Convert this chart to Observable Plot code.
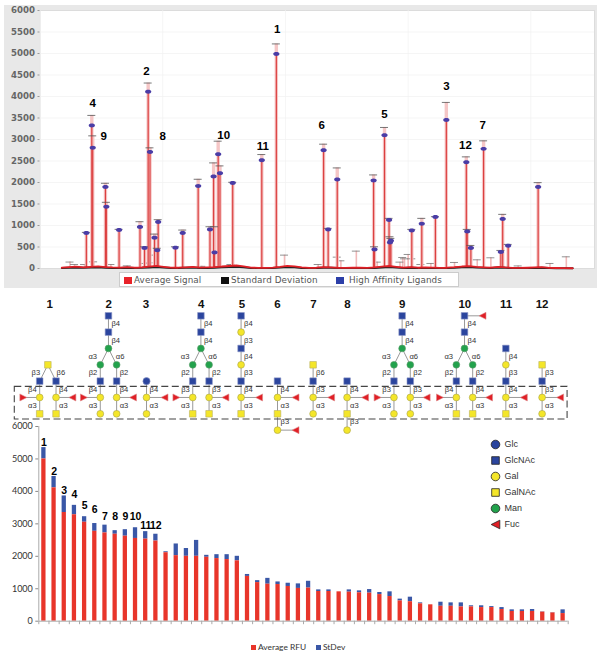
<!DOCTYPE html>
<html><head><meta charset="utf-8">
<script src="https://cdn.jsdelivr.net/npm/d3@7"></script>
<script src="https://cdn.jsdelivr.net/npm/@observablehq/plot@0.6"></script>
<style>
html,body{margin:0;padding:0;background:#fff}
#page{position:relative;width:602px;height:655px;overflow:hidden;background:#fff}
#page>div{position:absolute}
svg{display:block;overflow:visible}
.tl{position:absolute;top:2px;font:8.8px "DejaVu Sans",sans-serif;letter-spacing:.1px;color:#555;white-space:nowrap}
.ts{position:absolute;top:4px;width:8px;height:7px}
.bl{position:absolute;font:8.4px Lato,sans-serif;color:#333;white-space:nowrap}
.bs{position:absolute;width:5px;height:5px;top:3px}
</style></head><body><div id="page">
<div id="top" style="left:4px;top:5px"></div>
<div id="topLegend" style="left:119px;top:272px;width:340px;height:15px;background:#fff;border:1px solid #ccc;box-sizing:border-box">
  <span class="ts" style="left:4px;background:#e8232a"></span><span class="tl" style="left:14px">Average Signal</span>
  <span class="ts" style="left:101px;background:#111"></span><span class="tl" style="left:111px">Standard Deviation</span>
  <span class="ts" style="left:216px;background:#2c3fa8"></span><span class="tl" style="left:229px">High Affinity Ligands</span>
</div>
<div id="mid" style="left:0;top:290px"></div>
<div id="bottom" style="left:0;top:420px"></div>
<div id="key" style="left:480px;top:435px"></div>
<div style="left:250px;top:642px;width:110px;height:12px">
  <span class="bs" style="left:1px;background:#e8352a"></span><span class="bl" style="left:8px">Average RFU</span>
  <span class="bs" style="left:66px;background:#3a57a6"></span><span class="bl" style="left:73px">StDev</span>
</div>
</div>
<script>
/* ---------- top chart: high affinity ligands across the array ---------- */
const ligandNumber = [51,57,58,72,73,87,110,115,119,121,126,129,130,149,157,174,187,191,192,196,198,212,244,260,312,317,327,367,368,379,384,385,386,409,420,435,447,469,470,474,488,507,509,515,548];
const ligandSignal = [824,3327,2806,1896,1438,894,964,474,4111,2712,715,427,1080,482,824,1920,909,2137,373,2658,2215,1990,2518,4990,2751,909,2067,2044,443,3101,1127,606,645,886,1041,1197,3451,2471,863,474,2782,381,1150,528,1896];
const ligandTop    = [840,3560,3085,1982,1539,910,1088,505,4313,2806,800,470,1135,505,894,2075,971,2456,971,2961,2386,2005,2650,5223,2891,933,2339,2176,505,3280,1166,738,700,909,1166,1205,3862,2596,909,536,2969,420,1259,560,1997];
const minorNumber = [33,38,49,59,78,96,115,120,126,178,210,269,306,327,331,348,371,396,399,401,405,409,419,430,456,481,496,526,561,579];
const minorTop    = [150,93,93,155,93,62,117,132,311,50,93,311,93,264,179,404,148,148,256,225,326,225,93,117,140,202,249,60,117,272];
const noiseNumber = [24,32,40,48,56,64,72,80,88,96,104,112,120,128,136,144,152,160,168,176,184,192,200,208,216,224,232,240,248,256,264,272,280,288,296,304,312,320,328,336,344,352,360,368,376,384,392,400,408,416,424,432,440,448,456,464,472,480,488,496,504,512,520,528,536,544,552,560,568,576,586];
const noiseSignal = [18,30,42,26,38,50,34,24,20,30,18,26,44,60,40,22,18,28,36,20,24,30,46,58,70,48,22,16,14,20,38,62,48,24,14,18,30,26,16,14,18,22,14,24,44,58,40,22,30,18,24,20,14,18,30,46,54,36,28,22,40,26,16,14,18,24,30,16,12,10,6];
const noiseStDev  = [10,18,24,16,22,28,20,14,12,18,12,16,26,34,24,14,12,16,22,12,14,18,28,34,40,28,14,10,10,12,22,36,28,14,10,12,18,16,10,10,12,14,10,14,26,34,24,14,18,12,14,12,10,12,18,28,32,22,16,14,24,16,10,10,12,14,18,10,8,6,4];
const topRank  = ["1","2","3","4","5","6","7","8","9","10","11","12"];
const topRankN = [261,117,447,58,379,310,487,135,70,202,245,468];
const topRankV = [5557,4578,4243,3831,3575,3326,3326,3070,3070,3093,2837,2860];

const ligands = ligandNumber.map((n,i)=>({n,v:ligandSignal[i],t:ligandTop[i]}));
const minors  = minorNumber.map((n,i)=>({n,t:minorTop[i]}));
const noise   = noiseNumber.map((n,i)=>({n,s:noiseSignal[i],d:noiseStDev[i]}));
const topLabels = topRank.map((r,i)=>({r,n:topRankN[i],v:topRankV[i]}));
const ellipse = {draw(c,size){const r=Math.sqrt(size/Math.PI),a=r*1.25,b=r*.8;
  c.moveTo(a,0);c.bezierCurveTo(a,b*1.33,-a,b*1.33,-a,0);c.bezierCurveTo(-a,-b*1.33,a,-b*1.33,a,0);c.closePath();}};
const tickHalf = 4.4;

document.getElementById("top").append(Plot.plot({
  width:593,height:283,marginLeft:35.5,marginRight:3,marginTop:5,marginBottom:20,
  style:{background:"#e8e8e8",overflow:"visible"},
  x:{domain:[0,610],axis:null},
  y:{domain:[0,6000]},
  marks:[
    Plot.frame({fill:"#fff",stroke:"#dcdcdc"}),
    Plot.gridY(d3.range(500,6000,500),{stroke:"#f1f1f1",strokeOpacity:1,strokeWidth:.7}),
    Plot.gridX(d3.range(0,611,135),{stroke:"#f1f1f1",strokeOpacity:1,strokeWidth:.7}),
    Plot.axisY(d3.range(0,6001,500),{tickFormat:d=>String(d),fontSize:8.6,fontWeight:"bold",fontFamily:"DejaVu Sans",fill:"#666",stroke:"#999",tickSize:2,tickPadding:3,label:null,textStroke:"none"}),
    Plot.ruleX(minors,{x:"n",y1:0,y2:"t",stroke:"#f1b9b9",strokeWidth:1.6}),
    Plot.ruleY(minors,{y:"t",x1:d=>d.n-tickHalf,x2:d=>d.n+tickHalf,stroke:"#777",strokeWidth:.8}),
    Plot.ruleX(ligands,{x:"n",y1:0,y2:"t",stroke:"#f5c6c6",strokeWidth:3.4}),
    Plot.ruleX(ligands,{x:"n",y1:0,y2:"v",stroke:"#dc4040",strokeWidth:1.2}),
    Plot.ruleY(ligands,{y:"t",x1:d=>d.n-tickHalf,x2:d=>d.n+tickHalf,stroke:"#555",strokeWidth:.8}),
    Plot.lineY(noise,{x:"n",y:"d",stroke:"#222",strokeWidth:2}),
    Plot.lineY(noise,{x:"n",y:"s",stroke:"#e01f26",strokeWidth:1.8}),
    Plot.dot(ligands,{x:"n",y:"v",r:2.5,symbol:ellipse,fill:"#4a3da6",stroke:"none"}),
    Plot.text(topLabels,{x:"n",y:"v",text:"r",fontSize:11.5,fontWeight:"bold",fontFamily:"Liberation Sans",fill:"#000"})
  ]
}));

/* ---------- middle: glycan structures ---------- */
const glycanNo = [1,2,3,4,5,6,7,8,9,10,11,12];
const glycanCenter = [2.9,6.61,8.94,12.27,14.73,16.96,19.14,21.22,24.59,28.41,30.94,33.16];
const glycanLabelAt = [3.02,6.63,8.9,12.29,14.78,16.96,19.16,21.24,24.59,28.43,30.96,33.16];
const glycanTopLevel = [3,6,2,6,6,2,3,2,6,6,4,3];
const glycanTrunk = [
  ["GalNAc"],
  ["GlcNAc","β4","GlcNAc","β4","Man"],
  ["Glc","β4","Gal","α3","Gal"],
  ["GlcNAc","β4","GlcNAc","β4","Man"],
  ["GlcNAc","β4","Gal","β3","GlcNAc","β4","Gal","β3","GlcNAc","β4","Gal","α3","GalNAc"],
  ["GlcNAc","β4","Gal","α3","GalNAc","β3","Gal"],
  ["GalNAc","β6","GlcNAc","β3","Gal","α3","Gal"],
  ["GlcNAc","β4","Gal","α3","GalNAc","β3","Gal"],
  ["GlcNAc","β4","GlcNAc","β4","Man"],
  ["GlcNAc","β4","GlcNAc","β4","Man"],
  ["GlcNAc","β4","Gal","β3","GlcNAc","β4","Gal","α3","GalNAc"],
  ["GalNAc","β3","GlcNAc","β3","Gal","α3","Gal"]
];
const glycanArms = [
  ["GlcNAc","β4","Gal","α3","GalNAc"],
  ["Man","β2","GlcNAc","β4","Gal","α3","Gal"],
  null,
  ["Man","β2","GlcNAc","β3","Gal","α3","GalNAc"],
  null,null,null,null,
  ["Man","β2","GlcNAc","β3","Gal","α3","Gal"],
  ["Man","β2","GlcNAc","β4","Gal","α3","GalNAc"],
  null,null
];
const glycanForks = [["β3","β6"],["α3","α6"],null,["α3","α6"],null,null,null,null,["α3","α6"],["α3","α6"],null,null];
const glycanExtraFuc = [[],[],[],[],[],[-1],[],[],[],[6],[],[]];
const armSpread = .5, armFuc = 1;

const nodes=[],links=[],linkText=[];
function chain(g,x,top,seq,side){
  for(let i=0;i<seq.length;i+=2){
    const level=top-i/2;
    nodes.push({g,x,level,type:seq[i]});
    if(i+2<seq.length){
      links.push({x1:x,x2:x,y1:level,y2:level-1});
      linkText.push({x,y:level-.5,t:seq[i+1],side});
    }
  }
}
function fuc(g,x,level,dir,reach){
  const fx=x+dir*reach;
  nodes.push({g,x:fx,level,type:dir>0?"FucL":"FucR"});
  links.push({x1:x,x2:fx,y1:level,y2:level});
}
glycanNo.forEach((no,k)=>{
  const c=glycanCenter[k],top=glycanTopLevel[k],trunk=glycanTrunk[k],arms=glycanArms[k];
  chain(no,c,top,trunk,1);
  if(arms){
    const base=top-(trunk.length-1)/2;
    const t=base-1;
    [-1,1].forEach((s,j)=>{
      const ax=c+s*armSpread;
      chain(no,ax,t,arms,s);
      links.push({x1:c,x2:ax,y1:base,y2:t});
      linkText.push({x:s<0?c-(trunk.length>1?.7:.47):c+(trunk.length>1?.45:.53),y:base-.5,t:glycanForks[k][j],side:s,fork:true});
      fuc(no,ax,1,s,armFuc);
    });
  } else {
    fuc(no,c,1,1,1.1);
  }
  glycanExtraFuc[k].forEach(l=>fuc(no,c,l,1,1.1));
});
const tri=dir=>({draw(c,size){const r=Math.sqrt(size/Math.PI);
  c.moveTo(dir*r,0);c.lineTo(-dir*r,-r);c.lineTo(-dir*r,r);c.closePath();}});
const triRight=tri(1),triLeft=tri(-1);
const isType=t=>d=>d.type===t;
const fillOf={Glc:"#2b459e",GlcNAc:"#2b459e",Gal:"#f4e629",GalNAc:"#f4e629",Man:"#22a24c",Fuc:"#e01f26"};
const nodeMark=(t,sym,r,stroke)=>Plot.dot(nodes.filter(isType(t)),{x:"x",y:"level",symbol:sym,r,fill:fillOf[t.slice(0,3)==="Fuc"?"Fuc":t],stroke,strokeWidth:.6});
const boxX=[.875,34.72],boxY=[-.35,1.65];
const linkFont={fontSize:7.6,fontFamily:"Liberation Sans",fill:"#333"};

document.getElementById("mid").append(Plot.plot({
  width:602,height:150,margin:0,
  x:{domain:[0,602/16.333],axis:null},
  y:{domain:[-1.635,7.55],axis:null},
  marks:[
    Plot.link(links,{x1:"x1",x2:"x2",y1:"y1",y2:"y2",stroke:"#999",strokeWidth:1}),
    Plot.text(linkText.filter(d=>!d.fork&&d.side>0),{x:"x",y:"y",text:"t",textAnchor:"start",dx:3,...linkFont}),
    Plot.text(linkText.filter(d=>!d.fork&&d.side<0),{x:"x",y:"y",text:"t",textAnchor:"end",dx:-3,...linkFont}),
    Plot.text(linkText.filter(d=>d.fork&&d.side>0),{x:"x",y:"y",text:"t",textAnchor:"start",...linkFont}),
    Plot.text(linkText.filter(d=>d.fork&&d.side<0),{x:"x",y:"y",text:"t",textAnchor:"end",...linkFont}),
    nodeMark("GlcNAc","square",3.7,"#8a93c4"),
    nodeMark("Glc","circle",3.6,"#8a93c4"),
    nodeMark("Gal","circle",3.4,"#a8a24a"),
    nodeMark("GalNAc","square",3.7,"#b8b060"),
    nodeMark("Man","circle",3.4,"#5a9a6a"),
    nodeMark("FucL",triLeft,3.5,"#d88"),
    nodeMark("FucR",triRight,3.5,"#d88"),
    Plot.rect([{}],{x1:boxX[0],x2:boxX[1],y1:boxY[0],y2:boxY[1],fill:"none",stroke:"#444",strokeWidth:1.1,strokeDasharray:"7 3.5"}),
    Plot.text(glycanNo,{x:(d,i)=>glycanLabelAt[i],y:()=>7.55-13.7/16.333,text:d=>String(d),fontSize:11.5,fontWeight:"bold",fontFamily:"Liberation Sans",fill:"#111"})
  ]
}));

/* ---------- bottom: ranked bars ---------- */
const barAvg = [5000,4110,3350,3280,3050,2770,2720,2680,2620,2550,2530,2470,2110,2020,2000,2000,1970,1930,1900,1860,1380,1190,1140,1130,1070,1010,1020,915,915,905,895,875,865,820,760,625,600,535,505,460,460,440,440,420,420,360,300,300,300,280,255,235];
const barTop = [5350,4460,3860,3570,3220,3010,2960,2790,2820,2880,2760,2680,2140,2380,2240,2490,2030,2050,2050,2000,1440,1250,1320,1210,1170,1150,1230,965,965,905,965,935,975,885,905,680,740,565,505,585,565,565,475,475,450,420,350,350,360,290,265,350];
const rankText = ["1","2","3","4","5","6","7","8","9","10","11","12"];
const rankV = [5500,4620,4020,3910,3550,3440,3210,3210,3210,3210,2930,2930];
const bars = barAvg.map((v,i)=>({rank:i+1,v,t:barTop[i]}));
const step = (567.7-38.3)/52;

document.getElementById("bottom").append(Plot.plot({
  width:602,height:235,marginLeft:38.3,marginRight:34.3,marginTop:6,marginBottom:34.3,
  style:{background:"transparent",overflow:"visible"},
  x:{domain:bars.map(d=>d.rank),paddingInner:.58,paddingOuter:.29,round:false,axis:null},
  y:{domain:[0,6000]},
  marks:[
    Plot.axisY(d3.range(0,6001,1000),{tickFormat:d=>String(d),fontSize:9,fontFamily:"Lato",fill:"#333",stroke:"#888",tickSize:3,tickPadding:3,label:null}),
    Plot.ruleX([1],{x:d=>d,y1:0,y2:6000,dx:-step/2,stroke:"#aaa"}),
    Plot.barY(bars,{x:"rank",y1:"v",y2:"t",fill:"#3a57a6"}),
    Plot.barY(bars,{x:"rank",y1:0,y2:"v",fill:"#e8352a"}),
    Plot.ruleY([0],{stroke:"#aaa"}),
    Plot.ruleX(bars,{x:"rank",y1:0,y2:0,dx:step/2,insetBottom:-3.5,stroke:"#aaa"}),
    Plot.ruleX([1],{x:d=>d,y1:0,y2:0,dx:-step/2,insetBottom:-3.5,stroke:"#aaa"}),
    Plot.text(rankText,{x:(d,i)=>i+1,y:(d,i)=>rankV[i],text:d=>d,fontSize:10.5,fontWeight:"bold",fontFamily:"Liberation Sans",fill:"#000"})
  ]
}));

/* ---------- monosaccharide key ---------- */
const keyNames = ["Glc","GlcNAc","Gal","GalNAc","Man","Fuc"];
const keySymbols = ["circle","square","circle","square","circle",triLeft];
document.getElementById("key").append(Plot.plot({
  width:90,height:100,margin:0,marginTop:8,marginBottom:10,
  y:{domain:keyNames,type:"point",padding:0,axis:null},
  marks:[
    ...keyNames.map((n,i)=>Plot.dot([n],{y:d=>d,frameAnchor:"left",dx:15,symbol:keySymbols[i],r:4.3,fill:fillOf[n],stroke:"#222",strokeWidth:.8})),
    Plot.text(keyNames,{y:d=>d,text:d=>d,frameAnchor:"left",dx:24,textAnchor:"start",fontSize:9,fontFamily:"Liberation Sans",fill:"#333"})
  ]
}));
</script></body></html>
